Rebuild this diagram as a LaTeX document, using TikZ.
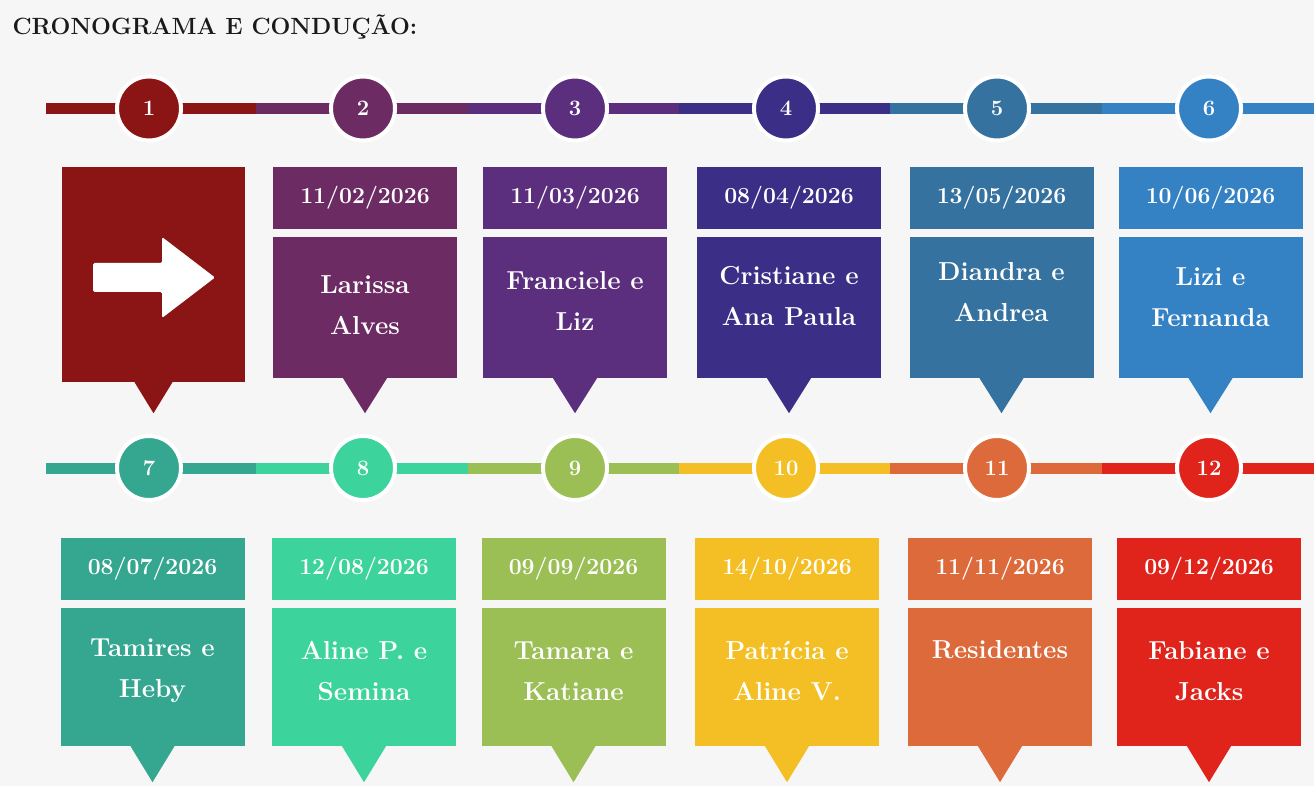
\documentclass[tikz,border=0pt]{standalone}
\usepackage{xcolor}
\usepackage{tikz}
\usetikzlibrary{calc}
\definecolor{cA}{RGB}{139,20,20}
\definecolor{cB}{RGB}{108,44,99}
\definecolor{cC}{RGB}{91,47,126}
\definecolor{cD}{RGB}{58,46,134}
\definecolor{cE}{RGB}{54,114,159}
\definecolor{cF}{RGB}{52,130,196}
\definecolor{cG}{RGB}{53,166,143}
\definecolor{cH}{RGB}{61,211,156}
\definecolor{cI}{RGB}{155,190,85}
\definecolor{cJ}{RGB}{243,191,36}
\definecolor{cK}{RGB}{221,106,59}
\definecolor{cL}{RGB}{224,35,27}
\definecolor{fundo}{RGB}{246,246,246}
\definecolor{tinta}{RGB}{26,26,26}

\begin{document}
\begin{tikzpicture}[x=1pt,y=-1pt,
	marco/.style={circle,draw=white,line width=4pt,minimum size=64pt,inner sep=0pt,text=white,font=\fontsize{22}{22}\selectfont\bfseries},
	data/.style={minimum width=184pt,minimum height=62pt,inner sep=0pt,text=white,font=\fontsize{23}{23}\selectfont\bfseries},
	caixa/.style={minimum width=184pt,minimum height=141pt,inner sep=0pt},
	nome/.style={text=white,align=center,font=\fontsize{26}{41}\selectfont\bfseries},
	trilho/.style={line width=11pt}]
\fill[fundo] (0,0) rectangle (1314,786);
\useasboundingbox (0,0) rectangle (1314,786);
\node[anchor=base west,text=tinta,font=\fontsize{23.5}{26}\selectfont\bfseries] (T) at (9,35) {CRONOGRAMA E CONDUÇÃO:};
\begin{scope}%[yshift=108.5] %1a linha
	\begin{scope}[shift={(149,108.5)}] %etapa 1, a seta
		\coordinate (E) at (-103,0);
		\coordinate (F) at (107,0);
		\draw[trilho,cA] (E)--(F);
		\node[marco,fill=cA] (M) at (0,0) {1};
		\node[caixa,minimum width=183pt,minimum height=215pt,fill=cA] (C) at (4.5,166) {};
		\fill[cA] ([xshift=-19pt]C.south) -- ([xshift=19pt]C.south) -- ([yshift=-31pt]C.south) -- cycle;
		\fill[white,rounded corners=1.5pt] (-56,154.5) -- (13,154.5) -- (13,128.5) -- (66,169)
			-- (13,209.5) -- (13,183.5) -- (-56,183.5) -- cycle;
	\end{scope}
	\begin{scope}[shift={(363,108.5)}] %etapa 2
		\coordinate (E) at (-107,0);
		\coordinate (F) at (107,0);
		\draw[trilho,cB] (E)--(F);
		\node[marco,fill=cB] (M) at (0,0) {2};
		\node[data,fill=cB] (D) at (2,89.5) {11/02/2026};
		\node[caixa,fill=cB] (C) at (2,199) {};
		\fill[cB] ([xshift=-22pt]C.south) -- ([xshift=22pt]C.south) -- ([yshift=-35pt]C.south) -- cycle;
		\node[nome] (N) at (2,197) {Larissa\\Alves};
	\end{scope}
	\begin{scope}[shift={(575,108.5)}] %etapa 3
		\coordinate (E) at (-107,0);
		\coordinate (F) at (107,0);
		\draw[trilho,cC] (E)--(F);
		\node[marco,fill=cC] (M) at (0,0) {3};
		\node[data,fill=cC] (D) at (0,89.5) {11/03/2026};
		\node[caixa,fill=cC] (C) at (0,199) {};
		\fill[cC] ([xshift=-22pt]C.south) -- ([xshift=22pt]C.south) -- ([yshift=-35pt]C.south) -- cycle;
		\node[nome] (N) at (0,192.5) {Franciele e\\Liz};
	\end{scope}
	\begin{scope}[shift={(786,108.5)}] %etapa 4
		\coordinate (E) at (-107,0);
		\coordinate (F) at (107,0);
		\draw[trilho,cD] (E)--(F);
		\node[marco,fill=cD] (M) at (0,0) {4};
		\node[data,fill=cD] (D) at (3,89.5) {08/04/2026};
		\node[caixa,fill=cD] (C) at (3,199) {};
		\fill[cD] ([xshift=-22pt]C.south) -- ([xshift=22pt]C.south) -- ([yshift=-35pt]C.south) -- cycle;
		\node[nome] (N) at (3,188) {Cristiane e\\Ana Paula};
	\end{scope}
	\begin{scope}[shift={(997,108.5)}] %etapa 5
		\coordinate (E) at (-107,0);
		\coordinate (F) at (107,0);
		\draw[trilho,cE] (E)--(F);
		\node[marco,fill=cE] (M) at (0,0) {5};
		\node[data,fill=cE] (D) at (4.5,89.5) {13/05/2026};
		\node[caixa,fill=cE] (C) at (4.5,199) {};
		\fill[cE] ([xshift=-22pt]C.south) -- ([xshift=22pt]C.south) -- ([yshift=-35pt]C.south) -- cycle;
		\node[nome] (N) at (4.5,184) {Diandra e\\Andrea};
	\end{scope}
	\begin{scope}[shift={(1209,108.5)}] %etapa 6
		\coordinate (E) at (-107,0);
		\coordinate (F) at (107,0);
		\draw[trilho,cF] (E)--(F);
		\node[marco,fill=cF] (M) at (0,0) {6};
		\node[data,fill=cF] (D) at (1.5,89.5) {10/06/2026};
		\node[caixa,fill=cF] (C) at (1.5,199) {};
		\fill[cF] ([xshift=-22pt]C.south) -- ([xshift=22pt]C.south) -- ([yshift=-35pt]C.south) -- cycle;
		\node[nome] (N) at (1.5,189) {Lizi e\\Fernanda};
	\end{scope}
\end{scope}
\begin{scope}[shift={(0,359.5)}] %2a linha
	\begin{scope}[shift={(149,108.5)}] %etapa 7
		\coordinate (E) at (-103,0);
		\coordinate (F) at (107,0);
		\draw[trilho,cG] (E)--(F);
		\node[marco,fill=cG] (M) at (0,0) {7};
		\node[data,fill=cG] (D) at (3.5,101) {08/07/2026};
		\node[caixa,minimum height=138pt,fill=cG] (C) at (3.5,209) {};
		\fill[cG] ([xshift=-22pt]C.south) -- ([xshift=22pt]C.south) -- ([yshift=-36pt]C.south) -- cycle;
		\node[nome] (N) at (3.5,203) {Tamires e\\Heby};
	\end{scope}
	\begin{scope}[shift={(363,108.5)}] %etapa 8
		\coordinate (E) at (-107,0);
		\coordinate (F) at (107,0);
		\draw[trilho,cH] (E)--(F);
		\node[marco,fill=cH] (M) at (0,0) {8};
		\node[data,fill=cH] (D) at (1,101) {12/08/2026};
		\node[caixa,minimum height=138pt,fill=cH] (C) at (1,209) {};
		\fill[cH] ([xshift=-22pt]C.south) -- ([xshift=22pt]C.south) -- ([yshift=-36pt]C.south) -- cycle;
		\node[nome] (N) at (1,203) {Aline P. e\\Semina};
	\end{scope}
	\begin{scope}[shift={(575,108.5)}] %etapa 9
		\coordinate (E) at (-107,0);
		\coordinate (F) at (107,0);
		\draw[trilho,cI] (E)--(F);
		\node[marco,fill=cI] (M) at (0,0) {9};
		\node[data,fill=cI] (D) at (-1.5,101) {09/09/2026};
		\node[caixa,minimum height=138pt,fill=cI] (C) at (-1.5,209) {};
		\fill[cI] ([xshift=-22pt]C.south) -- ([xshift=22pt]C.south) -- ([yshift=-36pt]C.south) -- cycle;
		\node[nome] (N) at (-1.5,203) {Tamara e\\Katiane};
	\end{scope}
	\begin{scope}[shift={(786,108.5)}] %etapa 10
		\coordinate (E) at (-107,0);
		\coordinate (F) at (107,0);
		\draw[trilho,cJ] (E)--(F);
		\node[marco,fill=cJ] (M) at (0,0) {10};
		\node[data,fill=cJ] (D) at (1,101) {14/10/2026};
		\node[caixa,minimum height=138pt,fill=cJ] (C) at (1,209) {};
		\fill[cJ] ([xshift=-22pt]C.south) -- ([xshift=22pt]C.south) -- ([yshift=-36pt]C.south) -- cycle;
		\node[nome] (N) at (1,203) {Patrícia e\\Aline V.};
	\end{scope}
	\begin{scope}[shift={(997,108.5)}] %etapa 11
		\coordinate (E) at (-107,0);
		\coordinate (F) at (107,0);
		\draw[trilho,cK] (E)--(F);
		\node[marco,fill=cK] (M) at (0,0) {11};
		\node[data,fill=cK] (D) at (3,101) {11/11/2026};
		\node[caixa,minimum height=138pt,fill=cK] (C) at (3,209) {};
		\fill[cK] ([xshift=-22pt]C.south) -- ([xshift=22pt]C.south) -- ([yshift=-36pt]C.south) -- cycle;
		\node[nome] (N) at (3,182) {Residentes};
	\end{scope}
	\begin{scope}[shift={(1209,108.5)}] %etapa 12
		\coordinate (E) at (-107,0);
		\coordinate (F) at (107,0);
		\draw[trilho,cL] (E)--(F);
		\node[marco,fill=cL] (M) at (0,0) {12};
		\node[data,fill=cL] (D) at (0,101) {09/12/2026};
		\node[caixa,minimum height=138pt,fill=cL] (C) at (0,209) {};
		\fill[cL] ([xshift=-22pt]C.south) -- ([xshift=22pt]C.south) -- ([yshift=-36pt]C.south) -- cycle;
		\node[nome] (N) at (0,203) {Fabiane e\\Jacks};
	\end{scope}
\end{scope}
\end{tikzpicture}
\end{document}
